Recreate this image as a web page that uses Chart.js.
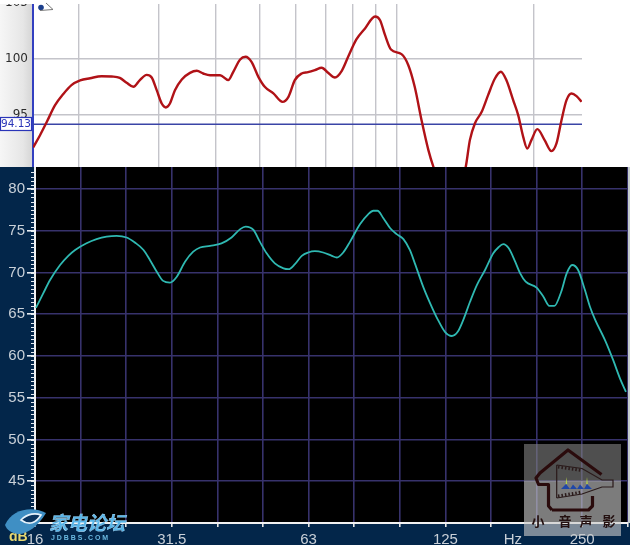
<!DOCTYPE html>
<html><head><meta charset="utf-8">
<style>
html,body{margin:0;padding:0;background:#fff;width:630px;height:545px;overflow:hidden}
#page{position:relative;width:630px;height:545px;background:#fff;overflow:hidden}
#leftbg{position:absolute;left:0;top:0;width:33px;height:167px;background:linear-gradient(to right,#f6f6f6,#e6e6e6 70%,#d4d4d4)}
canvas{position:absolute;left:0}
#c1{top:0}
#c2{top:167px;background:#03264a}
#edge{position:absolute;left:628px;top:167px;width:2px;height:356px;background:#c4cccc}
#cap{position:absolute;left:0;top:0;width:630px;height:4px;background:#fff}
svg{position:absolute;left:0;top:0}
</style>
</head><body>
<div id="page">
<div id="leftbg"></div>
<canvas id="c1" width="630" height="167"></canvas>
<canvas id="c2" width="630" height="378"></canvas>
<div id="edge"></div>
<div id="cap"></div>
<svg width="630" height="545" viewBox="0 0 630 545" font-family="Liberation Sans, sans-serif">
  <circle cx="41" cy="7.5" r="2.8" fill="#1c3f8c"/>
  <path d="M46 3 L53 9.5 L40 10.5" fill="none" stroke="#777" stroke-width="1"/>
  <!-- left watermark -->
  <text x="9" y="541" font-size="14" font-weight="bold" fill="#e8d870">dB</text>
  <path d="M5 525 C12 508 34 506 46 513 C38 526 28 534 18 534 C11 533 7 530 5 525Z" fill="#3f8fc4"/>
  <path d="M21 520 C28 513 36 513 41 515 C36 523 29 526 21 520Z" fill="#0a3560" stroke="#e6f3fc" stroke-width="1.6"/>
  <text x="49" y="530" font-size="19" font-weight="bold" font-style="italic" fill="#58b5e8" stroke="#bfe6ff" stroke-width=".3" font-family="Noto Sans CJK SC">家电论坛</text>
  <text x="51" y="540" font-size="7" font-weight="bold" letter-spacing="1.9" fill="#6ab8e0">JDBBS.COM</text>
  <!-- right watermark -->
  <rect x="524" y="444" width="97" height="37" fill="#7f7f7f" fill-opacity=".62"/>
  <rect x="524" y="481" width="97" height="55" fill="#c8c8c8" fill-opacity=".62"/>
  <path d="M552 510 L548.5 506 V484.5 H538.5 L536 478 L540 473 L568 450 L601.5 474.5 M592.5 496 V506 L588.5 510 H552" fill="none" stroke="#2a0b0c" stroke-width="3.2" stroke-linejoin="round"/>
  <path d="M556.7 465 V498 M556.7 465 L582 468.5 L602 480 H613 V487 H602 L582 494 L556.7 498" fill="none" stroke="#2a1a1a" stroke-width="1.2"/>
  <path d="M558 467 L582 470.5 M558 496 L582 492" stroke="#2a1a1a" stroke-width="3" stroke-dasharray="1.5 2" fill="none"/>
  <path d="M561 489 L566 484 L570 489 L573 484.5 L577 489 L580 484.5 L584 489 L587 484 L592 489Z" fill="#1f47a8"/>
  <path d="M565.7 484 L566.5 477 L567.2 484Z M586.2 484 L587 477 L587.8 484Z" fill="#b6d34a"/>
  <g font-family="Noto Sans CJK SC" font-size="13" font-weight="bold" fill="#241010" text-anchor="middle">
    <text x="538" y="526">小</text><text x="565" y="526">音</text><text x="586" y="526">声</text><text x="609" y="526">影</text>
  </g>
</svg>
</div>
<script src="https://cdn.jsdelivr.net/npm/chart.js@4"></script>
<script>
// x values are third-octave band positions: 0 = 16 Hz, 3 = 31.5 Hz, 6 = 63 Hz ...
const topBands = [-0.04,0.11,0.26,0.44,0.62,0.80,0.99,1.21,1.46,1.68,1.86,2.01,2.16,2.30,2.45,2.56,2.67,2.78,2.87,2.96,3.07,3.22,3.40,3.55,3.69,3.84,4.06,4.24,4.35,4.50,4.62,4.75,4.90,5.04,5.23,5.43,5.56,5.70,5.85,5.99,6.14,6.29,6.43,6.58,6.73,6.87,7.05,7.24,7.46,7.57,7.68,7.81,8.04,8.19,8.33,8.48,8.63,8.74,8.92,9.21,9.36,9.45,9.54,9.65,9.80,9.94,10.09,10.22,10.34,10.49,10.60,10.71,10.80,10.89,11.02,11.18,11.33,11.44,11.55,11.66,11.77,11.88,11.99];
const topDb = [92.05,93.15,94.35,95.83,96.82,97.62,98.04,98.24,98.42,98.39,98.27,97.83,97.47,98.07,98.54,98.3,97.17,95.98,95.63,95.98,97.17,98.13,98.72,98.9,98.66,98.51,98.51,98.07,98.81,99.91,100.15,99.7,98.36,97.47,96.88,96.13,96.58,98.07,98.66,98.78,98.96,99.17,98.72,98.3,98.9,100.15,101.7,102.68,103.75,103.42,102.08,100.8,100.39,99.4,97.47,94.49,91.82,90.33,88.5,88.2,89.1,90.33,92.71,94.2,95.24,96.73,98.21,98.81,98.07,96.28,94.94,93.0,91.96,92.71,93.69,92.71,91.73,92.41,94.49,96.28,96.88,96.64,96.13];
const lowBands = [0.02,0.18,0.33,0.55,0.73,0.88,1.13,1.35,1.57,1.79,2.01,2.19,2.38,2.52,2.67,2.81,2.96,3.11,3.29,3.47,3.62,3.84,4.09,4.31,4.50,4.62,4.79,4.93,5.08,5.26,5.45,5.56,5.70,5.85,5.99,6.14,6.32,6.51,6.62,6.76,6.91,7.13,7.31,7.42,7.51,7.64,7.79,7.93,8.08,8.22,8.33,8.52,8.70,8.84,8.99,9.14,9.27,9.39,9.54,9.69,9.87,10.05,10.16,10.27,10.39,10.53,10.64,10.76,11.00,11.15,11.28,11.39,11.54,11.66,11.78,11.91,12.06,12.17,12.28,12.50,12.68,12.83,12.96];
const lowDb = [65.76,67.5,69.1,70.9,72.0,72.7,73.5,74.0,74.3,74.4,74.2,73.6,72.7,71.5,70.1,69.0,68.8,69.5,71.3,72.5,73.0,73.2,73.5,74.2,75.2,75.5,75.1,73.7,72.3,71.1,70.5,70.4,71.0,72.0,72.4,72.56,72.4,72.0,71.8,72.4,73.7,75.8,77.0,77.4,77.4,76.5,75.3,74.6,74.0,72.7,71.1,68.2,65.9,64.3,62.9,62.4,62.9,64.3,66.5,68.5,70.3,72.3,73.0,73.4,72.9,71.3,69.9,68.9,68.2,67.1,66.0,66.0,67.7,69.9,70.9,70.3,67.9,65.9,64.4,61.9,59.5,57.3,55.7];
const refLevel = 94.13;
const topYTicks = [95,100,105];
const lowYTicks = [40,45,50,55,60,65,70,75,80];
const topGridHz = [20,30,40,50,60,70,80,90,100,200];
const lowBandTicks = [0,1,2,3,4,5,6,7,8,9,10,11,12,13];
const lowBandLabels = {0:'16',3:'31.5',6:'63',9:'125',12:'250'};
const hzUnitBand = 10.48, hzUnit = 'Hz';
const hzToBand = f => 3*Math.log2(f/16);
const XPX = 45.6;
const noPad = s => { s.paddingLeft=0; s.paddingRight=0; s.paddingTop=0; s.paddingBottom=0; };

Chart.defaults.animation = false;
Chart.defaults.responsive = false;

const refLabel = {
  id:'refLabel',
  afterDraw(c){
    const g=c.ctx, y=c.scales.y.getPixelForValue(refLevel);
    g.save();
    g.fillStyle='#fff'; g.strokeStyle='#2a35b8'; g.lineWidth=1.2;
    g.fillRect(0.5,Math.round(y)-6.5,31,13); g.strokeRect(0.5,Math.round(y)-6.5,31,13);
    g.fillStyle='#2a35b8'; g.font='10.5px "DejaVu Sans"'; g.textAlign='center'; g.textBaseline='middle';
    g.fillText(refLevel.toFixed(2),16,Math.round(y)+0.5);
    g.restore();
  }
};
const minorTicks = {
  id:'minorTicks',
  afterDraw(c){
    const g=c.ctx, s=c.scales.y, x=c.chartArea.left;
    g.save(); g.strokeStyle='#e6ecf2'; g.lineWidth=1; g.beginPath();
    for(let v=40;v<=82;v+=0.5){const y=Math.round(s.getPixelForValue(v))+0.5; g.moveTo(x-4,y); g.lineTo(x,y);}
    g.stroke(); g.restore();
  }
};
const blackArea = {
  id:'blackArea',
  beforeDraw(c){const a=c.chartArea; c.ctx.save(); c.ctx.fillStyle='#000'; c.ctx.fillRect(a.left,a.top,a.right-a.left,a.bottom-a.top); c.ctx.restore();}
};

new Chart(document.getElementById('c1'),{
  type:'line',
  data:{datasets:[
    {data:[[-0.044,refLevel],[12,refLevel]],borderColor:'#3a44a6',borderWidth:1.5,pointRadius:0,order:2},
    {data:topBands.map((b,i)=>[b,topDb[i]]),borderColor:'#b01217',borderWidth:2.4,pointRadius:0,cubicInterpolationMode:'monotone',order:1}
  ]},
  options:{
    parsing:{xAxisKey:0,yAxisKey:1},
    layout:{autoPadding:false,padding:{top:2.5,right:48,left:0,bottom:0}},
    plugins:{legend:{display:false},tooltip:{enabled:false}},
    scales:{
      x:{type:'linear',min:-0.044,max:12,
        afterBuildTicks(s){s.ticks=topGridHz.map(f=>({value:hzToBand(f)}));},
        afterFit(s){s.height=0;noPad(s);},
        ticks:{display:false},border:{display:false},
        grid:{color:'#c4c4ca',lineWidth:1.4,drawTicks:false}},
      y:{type:'linear',min:90.31,max:105,
        afterBuildTicks(s){s.ticks=topYTicks.map(v=>({value:v}));},
        afterFit(s){s.width=33;noPad(s);},
        ticks:{color:'#2c2c2c',font:{family:'DejaVu Sans',size:12},padding:5,callback:v=>String(v)},
        border:{color:'#3340c0',width:2},
        grid:{color:'#c4c4ca',lineWidth:1.4,drawTicks:false}}
    }
  },
  plugins:[refLabel]
});

new Chart(document.getElementById('c2'),{
  type:'line',
  data:{datasets:[{data:lowBands.map((b,i)=>[b,lowDb[i]]),borderColor:'#2fb9b2',borderWidth:1.8,pointRadius:0,cubicInterpolationMode:'monotone'}]},
  options:{
    parsing:{xAxisKey:0,yAxisKey:1},
    layout:{autoPadding:false,padding:{top:0,right:2,left:0,bottom:0}},
    plugins:{legend:{display:false},tooltip:{enabled:false}},
    scales:{
      x:{type:'linear',min:0,max:593/XPX,
        afterBuildTicks(s){s.ticks=lowBandTicks.map(v=>({value:v})).concat([{value:hzUnitBand}]);},
        afterFit(s){s.height=22;noPad(s);},
        ticks:{color:'#c9d0d8',font:{family:'Liberation Sans',size:15},padding:4,maxRotation:0,minRotation:0,autoSkip:false,
          callback:v=>v===hzUnitBand?hzUnit:(lowBandLabels[v]||'')},
        border:{color:'#f2f2f2',width:2},
        grid:{tickLength:4,lineWidth:1.6,
          color:ctx=>ctx.tick&&ctx.tick.value===hzUnitBand?'rgba(0,0,0,0)':'#37326c',
          tickColor:ctx=>ctx.tick&&ctx.tick.value===hzUnitBand?'rgba(0,0,0,0)':'#e6e6e6'}},
      y:{type:'linear',min:40,max:82.64,
        afterBuildTicks(s){s.ticks=lowYTicks.map(v=>({value:v}));},
        afterFit(s){s.width=35;noPad(s);},
        ticks:{color:'#c9d0d8',font:{family:'Liberation Sans',size:15},padding:2,callback:v=>v===40?'':String(v)},
        border:{color:'#f2f2f2',width:2},
        grid:{tickLength:8,lineWidth:1.6,color:'#37326c',tickColor:'#e6ecf2'}}
    }
  },
  plugins:[blackArea,minorTicks]
});
</script>
</body></html>
